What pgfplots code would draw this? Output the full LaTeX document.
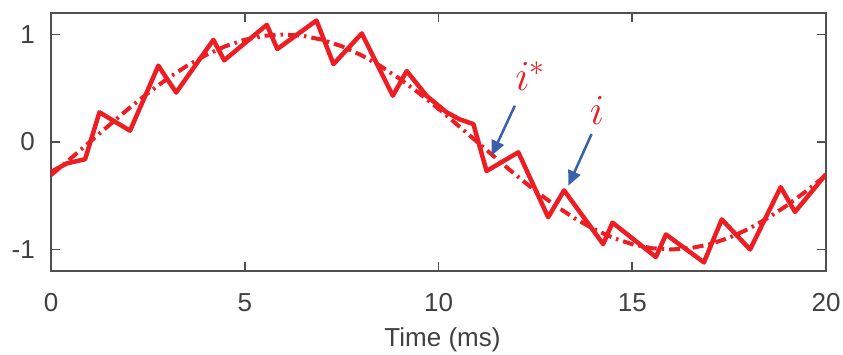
\documentclass[border=0pt]{standalone}
\usepackage{pgfplots}
\pgfplotsset{compat=1.18}
\usepackage{graphicx}
\usepackage{fontspec}
\setmainfont{Liberation Sans}
\usetikzlibrary{calc,arrows.meta}
\definecolor{myred}{RGB}{236,30,36}
\definecolor{myblue}{RGB}{58,96,172}
\definecolor{axgray}{RGB}{80,80,80}
\definecolor{txtgray}{RGB}{64,64,64}
\begin{document}
\begin{tikzpicture}
\begin{axis}[
  scale only axis,
  width=775pt, height=258pt,
  xmin=0, xmax=20, ymin=-1.2, ymax=1.2,
  xtick={0,5,10,15,20}, ytick={-1,0,1},
  tick align=inside,
  major tick length=9pt,
  axis line style={axgray, line width=1.6pt},
  every tick/.style={axgray, line width=1.6pt},
  tick label style={font=\fontsize{26}{30}\selectfont, text=txtgray},
  /pgf/number format/assume math mode=true,
  xticklabel style={inner sep=0pt, yshift=-22pt},
  yticklabel style={inner sep=0pt, xshift=-16pt},
  xlabel={Time (ms)},
  xlabel style={font=\fontsize{26}{30}\selectfont, text=txtgray, at={(axis description cs:0.5,0)}, anchor=base, inner sep=0pt, yshift=-76pt, xshift=4pt},
  clip=true,
]
\addplot[myred, line width=4pt, dash pattern=on 11pt off 5pt on 2.5pt off 5pt] coordinates {
(0,-0.309) (0.5,-0.156) (1,0) (1.5,0.156) (2,0.309) (2.5,0.454) (3,0.588) (3.5,0.707)
(4,0.809) (4.5,0.891) (5,0.951) (5.5,0.988) (6,1) (6.5,0.988) (7,0.951) (7.5,0.891)
(8,0.809) (8.5,0.707) (9,0.588) (9.5,0.454) (10,0.309) (10.5,0.156) (11,0) (11.5,-0.156)
(12,-0.309) (12.5,-0.454) (13,-0.588) (13.5,-0.707) (14,-0.809) (14.5,-0.891) (15,-0.951)
(15.5,-0.988) (16,-1) (16.5,-0.988) (17,-0.951) (17.5,-0.891) (18,-0.809) (18.5,-0.707)
(19,-0.588) (19.5,-0.454) (20,-0.309)
};
\addplot[myred, line width=4.5pt, line join=round] coordinates {
(0,-0.28) (0.4,-0.2) (0.88,-0.16) (1.25,0.276) (2.04,0.105) (2.77,0.71) (3.23,0.46)
(4.19,0.95) (4.47,0.76) (5.57,1.09) (5.84,0.865) (6.85,1.13) (7.29,0.725) (8.02,1.01)
(8.82,0.43) (9.18,0.66) (9.69,0.43) (10.21,0.276) (10.55,0.21) (10.9,0.167)
(11.24,-0.27) (12.06,-0.096) (12.83,-0.70) (13.24,-0.45) (14.25,-0.95) (14.49,-0.75)
(15.61,-1.07) (15.87,-0.86) (16.85,-1.12) (17.31,-0.72) (18.04,-1.0) (18.83,-0.42)
(19.2,-0.65) (20,-0.30)
};
\draw[myblue, line width=2.5pt, -{Triangle[length=15pt,width=13pt]}] (axis cs:11.97,0.338) -- (axis cs:11.37,-0.127);
\draw[myblue, line width=2.5pt, -{Triangle[length=15pt,width=13pt]}] (axis cs:13.95,0.074) -- (axis cs:13.35,-0.407);
\node[anchor=base west, inner sep=0pt, text=myred] at (axis cs:11.98,0.477) {\scalebox{1.72}{\fontsize{25}{30}\selectfont$i^*$}};
\node[anchor=base west, inner sep=0pt, text=myred] at (axis cs:13.9,0.167) {\scalebox{1.72}{\fontsize{25}{30}\selectfont$i$}};
\end{axis}
\pgfresetboundingbox
\path ($(current axis.south west)+(-51pt,-84pt)$) rectangle ($(current axis.north east)+(17pt,13pt)$);
\end{tikzpicture}
\end{document}
